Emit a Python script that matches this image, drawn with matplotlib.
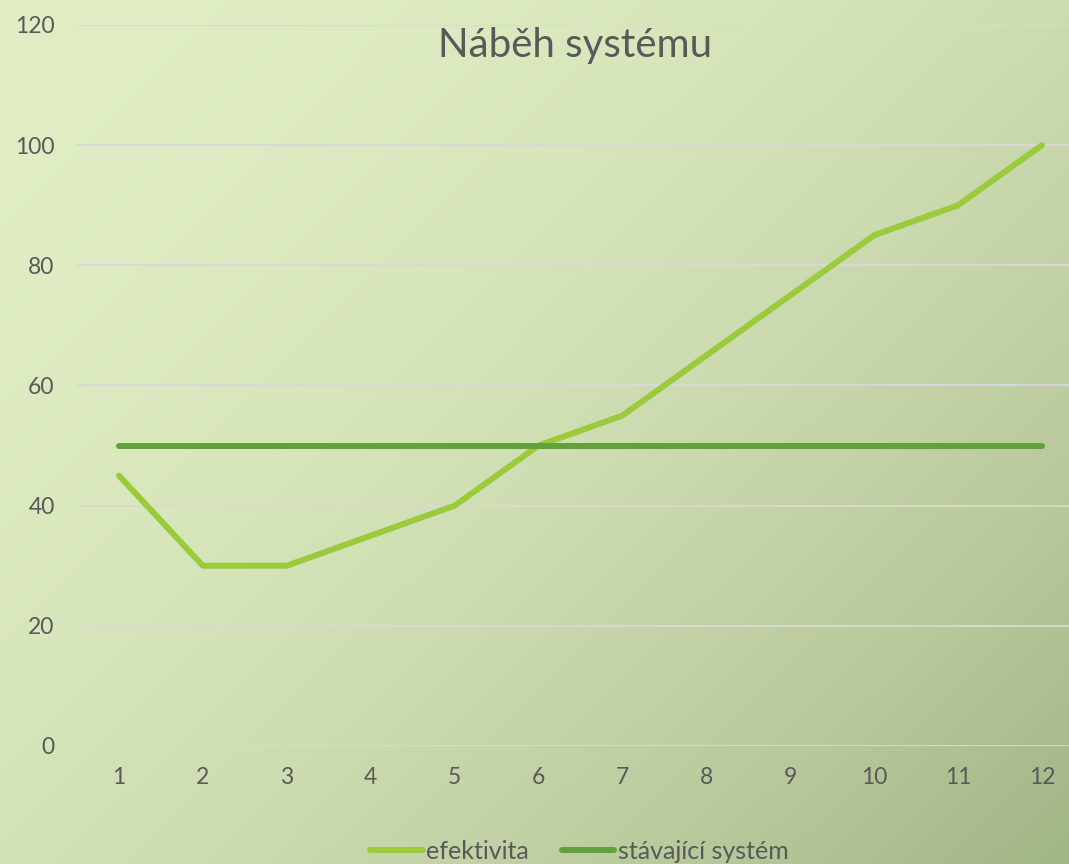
import matplotlib.pyplot as plt
import matplotlib.colors as mcolors
import numpy as np

# Data
months = list(range(1, 13))
efektivita = [45, 30, 30, 35, 40, 50, 55, 65, 75, 85, 90, 100]
stavajici = [50, 50, 50, 50, 50, 50, 50, 50, 50, 50, 50, 50]

plt.rcParams['font.family'] = ['Lato', 'DejaVu Sans']
text_col = '#595959'

fig = plt.figure(figsize=(10.69, 8.64), dpi=100)

# Background gradient (light top-left -> darker olive bottom-right)
bg = fig.add_axes([0, 0, 1, 1], zorder=-10)
h, w = 432, 535
yy, xx = np.mgrid[0:h, 0:w]
t = (xx / w * 0.55 + yy / h * 0.45)
t = np.clip(t, 0, 1) ** 1.9
c0 = np.array(mcolors.to_rgb('#E1EEC5'))
c1 = np.array(mcolors.to_rgb('#A2B585'))
img = c0[None, None, :] * (1 - t[..., None]) + c1[None, None, :] * t[..., None]
bg.imshow(img, aspect='auto', extent=[0, 1, 0, 1])
bg.axis('off')

ax = fig.add_axes([0.072, 0.1366, 0.942, 0.8345])
ax.patch.set_alpha(0)

ax.plot(months, efektivita, color='#9BCB3B', lw=4.3, solid_capstyle='round',
        solid_joinstyle='round', label='efektivita', zorder=3)
ax.plot(months, stavajici, color='#62A23A', lw=4.3, solid_capstyle='round',
        label='stávající systém', zorder=3)

ax.set_xlim(0.5, 12.5)
ax.set_ylim(0, 120)
ax.set_yticks(range(0, 121, 20))
ax.set_xticks(months)
ax.grid(axis='y', color='#D9D9D9', lw=1.3)
ax.set_axisbelow(True)
for s in ax.spines.values():
    s.set_visible(False)
ax.tick_params(length=0, labelsize=16.5, colors=text_col)
ax.tick_params(axis='y', pad=16)
ax.tick_params(axis='x', pad=15)

ax.text(0.495, 0.972, 'Náběh systému', transform=ax.transAxes, ha='center',
        va='center', fontsize=29, color=text_col)

fig.legend(loc='lower center', bbox_to_anchor=(0.542, -0.025), ncol=2,
           frameon=False, fontsize=18, handlelength=2.1, handletextpad=0.15,
           columnspacing=1.3, labelcolor=text_col)

plt.savefig('out.png', dpi=100)
